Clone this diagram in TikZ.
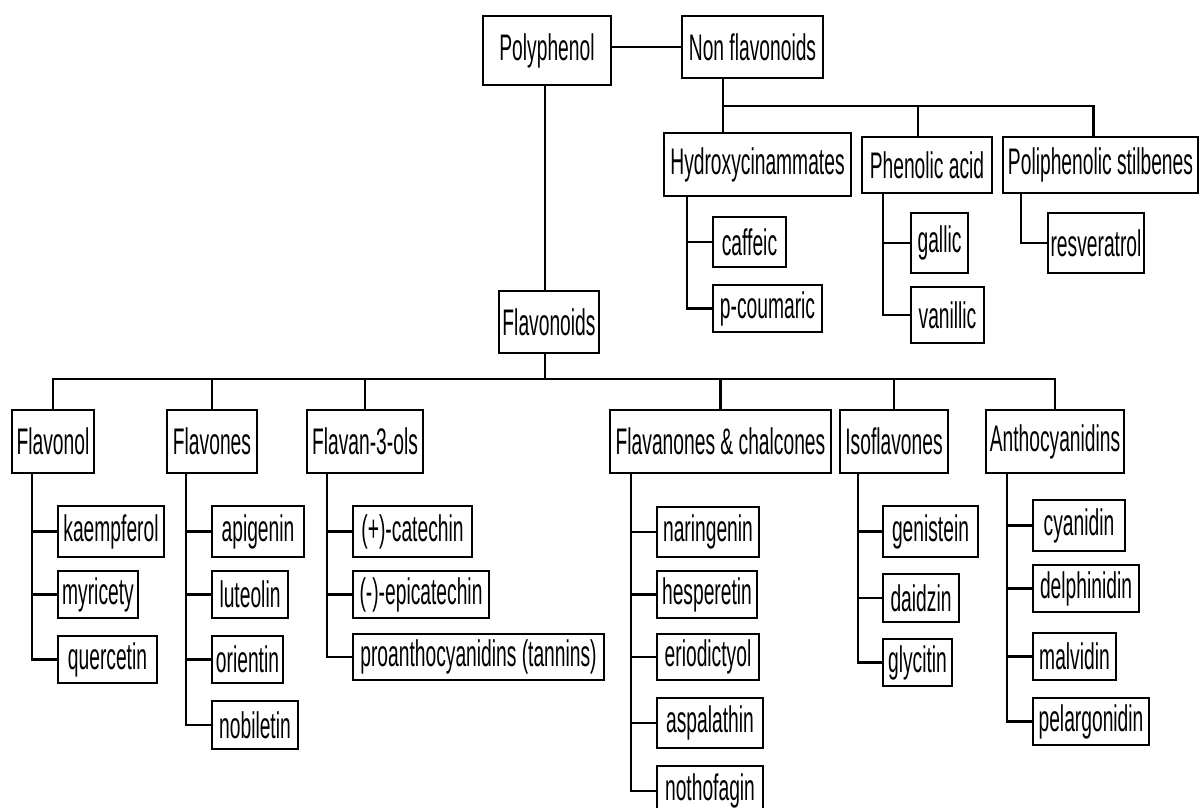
\documentclass[tikz,border=0pt]{standalone}
\usepackage{fontspec}
\setmainfont[FakeStretch=0.52]{Liberation Sans}
\usetikzlibrary{calc}
\tikzset{
    groupbox/.style={draw=black, line width=2.4pt, inner sep=2pt, font=\fontsize{37}{39}\selectfont},
    leafbox/.style={draw=black, line width=2.4pt, inner sep=2pt, font=\fontsize{37}{39}\selectfont},
    link/.style={draw=black, line width=2.4pt},
}
\begin{document}
\begin{tikzpicture}[x=1pt, y=-1pt]
	\fill[white] (0,0) rectangle (1200,807);
	\useasboundingbox (0,0) rectangle (1200,807);
	% top
	\node[groupbox, minimum width=128, minimum height=69] (poly) at (547,50.5) {Polyphenol};
	\node[groupbox, minimum width=141, minimum height=62] (nonflav) at (752.5,47) {Non flavonoids};
	\node[groupbox, minimum width=187, minimum height=63] (hydroxy) at (757.5,164.5) {Hydroxycinammates};
	\node[groupbox, minimum width=130, minimum height=56] (phenolic) at (927,165) {Phenolic acid};
	\node[groupbox, minimum width=195, minimum height=56] (stilb) at (1100.5,165) {Poliphenolic stilbenes};
	\node[leafbox, minimum width=73, minimum height=50] (caff) at (749.5,242) {caffeic};
	\node[leafbox, minimum width=109, minimum height=47] (pcou) at (767.5,308.5) {p-coumaric};
	\node[leafbox, minimum width=57, minimum height=60] (gall) at (939.5,243) {gallic};
	\node[leafbox, minimum width=73, minimum height=56] (vani) at (947.5,315) {vanillic};
	\node[leafbox, minimum width=96, minimum height=60] (resv) at (1096,243) {resveratrol};
	\node[groupbox, minimum width=100, minimum height=62] (flavonoids) at (549,322) {Flavonoids};
	% flavonoid groups
	\node[groupbox, minimum width=82, minimum height=63] (flavonol) at (53,441.5) {Flavonol};
	\node[groupbox, minimum width=90, minimum height=63] (flavones) at (212,441.5) {Flavones};
	\node[groupbox, minimum width=116, minimum height=63] (flavan) at (365,441.5) {Flavan-3-ols};
	\node[groupbox, minimum width=221, minimum height=63] (flavanones) at (720.5,441.5) {Flavanones \& chalcones};
	\node[groupbox, minimum width=108, minimum height=63] (isoflav) at (894,441.5) {Isoflavones};
	\node[groupbox, minimum width=138, minimum height=63] (antho) at (1055,441.5) {Anthocyanidins};
	% flavonol
	\node[leafbox, minimum width=106, minimum height=51] (kaem) at (111,531.5) {kaempferol};
	\node[leafbox, minimum width=80, minimum height=47] (myri) at (98,594.5) {myricety};
	\node[leafbox, minimum width=99, minimum height=47] (quer) at (107.5,659.5) {quercetin};
	% flavones
	\node[leafbox, minimum width=92, minimum height=51] (apig) at (258,531.5) {apigenin};
	\node[leafbox, minimum width=76, minimum height=47] (lute) at (250,594.5) {luteolin};
	\node[leafbox, minimum width=71, minimum height=47] (orie) at (247.5,659.5) {orientin};
	\node[leafbox, minimum width=86, minimum height=48] (nobi) at (255,725) {nobiletin};
	% flavan-3-ols
	\node[leafbox, minimum width=119, minimum height=51] (cate) at (412.5,531.5) {(+)-catechin};
	\node[leafbox, minimum width=136, minimum height=47] (epic) at (421,594.5) {(-)-epicatechin};
	\node[leafbox, minimum width=251, minimum height=46] (proa) at (478.5,657) {proanthocyanidins (tannins)};
	% flavanones
	\node[leafbox, minimum width=102, minimum height=50] (nari) at (708,532) {naringenin};
	\node[leafbox, minimum width=100, minimum height=47] (hesp) at (707,594.5) {hesperetin};
	\node[leafbox, minimum width=102, minimum height=46] (erio) at (708,657) {eriodictyol};
	\node[leafbox, minimum width=106, minimum height=50] (aspa) at (710,723) {aspalathin};
	\node[leafbox, minimum width=106, minimum height=50] (noth) at (710,791) {nothofagin};
	% isoflavones
	\node[leafbox, minimum width=95, minimum height=51] (geni) at (930.5,531.5) {genistein};
	\node[leafbox, minimum width=76, minimum height=48] (daid) at (921,598) {daidzin};
	\node[leafbox, minimum width=69, minimum height=47] (glyc) at (917.5,662.5) {glycitin};
	% anthocyanidins
	\node[leafbox, minimum width=92, minimum height=51] (cyan) at (1079,525.5) {cyanidin};
	\node[leafbox, minimum width=106, minimum height=47] (delp) at (1086,588.5) {delphinidin};
	\node[leafbox, minimum width=83, minimum height=47] (malv) at (1074.5,656.5) {malvidin};
	\node[leafbox, minimum width=116, minimum height=47] (pela) at (1091,721.5) {pelargonidin};
	% links
	\coordinate (njoin) at (723,106);
	\coordinate (fjoin) at (545,379);
	\draw[link] (poly.east |- nonflav) -- (nonflav.west);
	\draw[link] (nonflav.south -| njoin) -- (njoin) -- (hydroxy.north -| njoin);
	\draw[link] (njoin) -| ([xshift=-9pt]phenolic.north);
	\draw[link] (njoin) -| ([xshift=-7pt]stilb.north);
	\draw[link] (poly.south -| fjoin) -- (flavonoids.north -| fjoin);
	\draw[link] (flavonoids.south -| fjoin) -- (fjoin);
	\foreach \g in {flavonol,flavones,flavan,flavanones,isoflav,antho}
		\draw[link] (fjoin) -| (\g.north);
	\foreach \c in {caff,pcou} \draw[link] ([xshift=24pt]hydroxy.south west) |- (\c.west);
	\foreach \c in {gall,vani} \draw[link] ([xshift=22pt]phenolic.south west) |- (\c.west);
	\draw[link] ([xshift=19pt]stilb.south west) |- (resv.west);
	\foreach \c in {kaem,myri,quer} \draw[link] ([xshift=21pt]flavonol.south west) |- (\c.west);
	\foreach \c in {apig,lute,orie,nobi} \draw[link] ([xshift=20pt]flavones.south west) |- (\c.west);
	\foreach \c in {cate,epic,proa} \draw[link] ([xshift=21pt]flavan.south west) |- (\c.west);
	\foreach \c in {nari,hesp,erio,aspa,noth} \draw[link] ([xshift=22pt]flavanones.south west) |- (\c.west);
	\foreach \c in {geni,daid,glyc} \draw[link] ([xshift=19pt]isoflav.south west) |- (\c.west);
	\foreach \c in {cyan,delp,malv,pela} \draw[link] ([xshift=22pt]antho.south west) |- (\c.west);
\end{tikzpicture}
\end{document}
